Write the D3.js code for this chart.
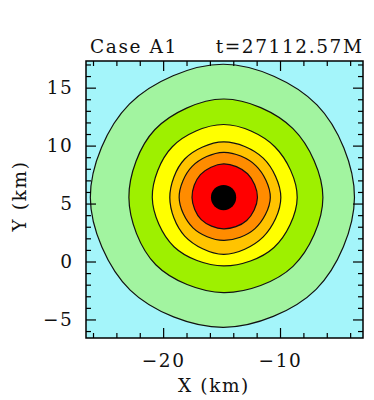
<!DOCTYPE html>
<html>
<head>
<meta charset="utf-8">
<script src="https://cdn.jsdelivr.net/npm/d3@7"></script>
<style>
  body { margin: 0; background: #fff; }
</style>
</head>
<body>
<div id="container"></div>
<script>
/* CONSTANTS AND GLOBALS */
const width = 374,
height = 400,
margin = {top: 61, bottom: 62, left: 86, right: 11},
font = "DejaVu Serif",
fontSize = 18.5,
spacing = 1.6;

/* DATA */
// contour shapes: radius (km) at 8 angles around the core
const angles = [0, 45, 90, 135, 180, 225, 270, 315];
const centerX = -14.83, centerY = 5.52;
const rOuter  = [11.2, 11.3, 11.5, 11.4, 11.4, 11.3, 11.2, 11.2];
const rGreen  = [8.5, 8.4, 8.5, 8.3, 8.1, 8.2, 8.2, 8.4];
const rYellow = [6.3, 6.2, 6.3, 6.2, 6.1, 6.0, 5.9, 6.1];
const rLtOrg  = [4.9, 4.8, 4.8, 4.7, 4.6, 4.7, 4.9, 4.8];
const rOrange = [4.0, 3.9, 3.9, 3.8, 3.8, 3.7, 3.7, 3.8];
const rRed    = [2.9, 2.9, 2.9, 2.8, 2.7, 2.7, 2.7, 2.8];
const coreRadius = 1.08;

const xDomain = [-26.6, -2.9], yDomain = [-6.6, 17.3];
const xMajor = [-20, -10], xMinor = [-26, -24, -22, -18, -16, -14, -12, -8, -6, -4];
const yMajor = [-5, 0, 5, 10, 15];
const yMinor = [-6, -4, -3, -2, -1, 1, 2, 3, 4, 6, 7, 8, 9, 11, 12, 13, 14, 16, 17];

const title = "Case A1", timeLabel = "t=27112.57M";
const xLabel = "X (km)", yLabel = "Y (km)";

const contours = [rOuter, rGreen, rYellow, rLtOrg, rOrange, rRed];
const bgColor = "#a4f5fa";
const fillColors = ["#a2f4a0", "#9ef000", "#ffff00", "#ffc400", "#ff8c00", "#ff0000"];

/* SCALES */
const xScale = d3.scaleLinear()
  .domain(xDomain)
  .range([margin.left, width - margin.right]);

const yScale = d3.scaleLinear()
  .domain(yDomain)
  .range([height - margin.bottom, margin.top]);

/* HTML ELEMENTS */
const svg = d3.select("#container")
  .append("svg")
  .attr("width", width)
  .attr("height", height);

svg.append("clipPath")
  .attr("id", "plot-clip")
  .append("rect")
  .attr("x", margin.left)
  .attr("y", margin.top)
  .attr("width", width - margin.left - margin.right)
  .attr("height", height - margin.top - margin.bottom);

const plot = svg.append("g").attr("clip-path", "url(#plot-clip)");

// background level
plot.append("rect")
  .attr("x", margin.left)
  .attr("y", margin.top)
  .attr("width", width - margin.left - margin.right)
  .attr("height", height - margin.top - margin.bottom)
  .attr("fill", bgColor);

// contour line generator
const contourLine = d3.line()
  .x(d => xScale(d[0]))
  .y(d => yScale(d[1]))
  .curve(d3.curveCatmullRomClosed);

const toPoints = radii => radii.map((r, i) => {
  const a = angles[i] * Math.PI / 180;
  return [centerX + r * Math.cos(a), centerY + r * Math.sin(a)];
});

plot.selectAll(".band")
  .data(contours)
  .join("path")
  .attr("class", "band")
  .attr("d", d => contourLine(toPoints(d)))
  .attr("fill", (d, i) => fillColors[i])
  .attr("stroke", "#111")
  .attr("stroke-width", 1.2);

// core
plot.append("circle")
  .attr("cx", xScale(centerX))
  .attr("cy", yScale(centerY))
  .attr("r", xScale(centerX + coreRadius) - xScale(centerX))
  .attr("fill", "#000");

//Axis - ticks pointing inward on all four sides
const styleAxis = g => {
  g.select(".domain").remove();
  g.selectAll("line").attr("stroke", "#000").attr("stroke-width", 1.2);
  g.selectAll("text")
    .attr("font-family", font)
    .attr("font-size", fontSize)
    .attr("letter-spacing", spacing)
    .attr("fill", "#111");
};

const bottomY = height - margin.bottom, rightX = width - margin.right;

svg.append("g")
  .attr("transform", `translate(0,${bottomY})`)
  .call(d3.axisBottom(xScale).tickValues(xMajor).tickSizeInner(-10).tickPadding(16))
  .call(styleAxis);
svg.append("g")
  .attr("transform", `translate(0,${bottomY})`)
  .call(d3.axisBottom(xScale).tickValues(xMinor).tickSizeInner(-5).tickFormat(""))
  .call(styleAxis);
svg.append("g")
  .attr("transform", `translate(0,${margin.top})`)
  .call(d3.axisTop(xScale).tickValues(xMajor).tickSizeInner(-10).tickFormat(""))
  .call(styleAxis);
svg.append("g")
  .attr("transform", `translate(0,${margin.top})`)
  .call(d3.axisTop(xScale).tickValues(xMinor).tickSizeInner(-5).tickFormat(""))
  .call(styleAxis);

svg.append("g")
  .attr("transform", `translate(${margin.left},0)`)
  .call(d3.axisLeft(yScale).tickValues(yMajor).tickSizeInner(-10).tickPadding(12.5))
  .call(styleAxis);
svg.append("g")
  .attr("transform", `translate(${margin.left},0)`)
  .call(d3.axisLeft(yScale).tickValues(yMinor).tickSizeInner(-5).tickFormat(""))
  .call(styleAxis);
svg.append("g")
  .attr("transform", `translate(${rightX},0)`)
  .call(d3.axisRight(yScale).tickValues(yMajor).tickSizeInner(-10).tickFormat(""))
  .call(styleAxis);
svg.append("g")
  .attr("transform", `translate(${rightX},0)`)
  .call(d3.axisRight(yScale).tickValues(yMinor).tickSizeInner(-5).tickFormat(""))
  .call(styleAxis);

// frame
svg.append("rect")
  .attr("x", margin.left)
  .attr("y", margin.top)
  .attr("width", width - margin.left - margin.right)
  .attr("height", height - margin.top - margin.bottom)
  .attr("fill", "none")
  .attr("stroke", "#000")
  .attr("stroke-width", 1.5);

//Titles
const addText = (x, y, str, anchor) => svg.append("text")
  .attr("x", x)
  .attr("y", y)
  .attr("text-anchor", anchor)
  .attr("font-family", font)
  .attr("font-size", fontSize)
  .attr("letter-spacing", spacing)
  .attr("fill", "#111")
  .text(str);

addText(90, 53, title, "start");
addText(363.5, 53, timeLabel, "end");

//X Label
addText(214, 392, xLabel, "middle");

//Y Label
addText(0, 0, yLabel, "middle")
  .attr("transform", `translate(26,196) rotate(-90)`);
</script>
</body>
</html>
